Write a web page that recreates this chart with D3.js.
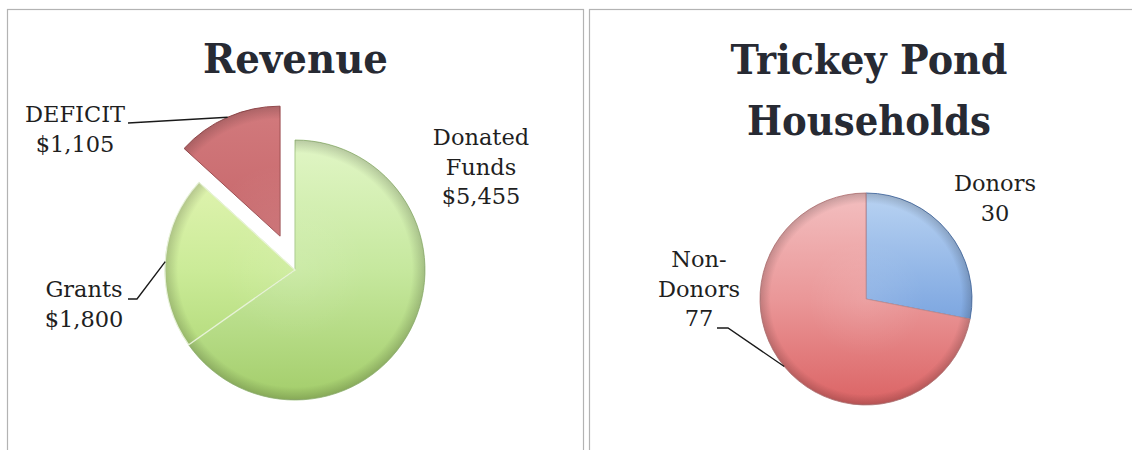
<!DOCTYPE html>
<html>
<head>
<meta charset="utf-8">
<script src="https://cdn.jsdelivr.net/npm/d3@7"></script>
<style>
  html, body { margin: 0; padding: 0; background: #ffffff; }
  svg { display: block; }
</style>
</head>
<body>
<svg id="chart" width="1132" height="450"></svg>
<script>
// ---------- DATA ----------
const revenueCategories = ["Donated Funds", "Grants", "DEFICIT"];
const revenueValues = [5455, 1800, 1105];
const revenueLabelLines = [["Donated", "Funds", "$5,455"], ["Grants", "$1,800"], ["DEFICIT", "$1,105"]];

const householdCategories = ["Donors", "Non-Donors"];
const householdValues = [30, 77];
const householdLabelLines = [["Donors", "30"], ["Non-", "Donors", "77"]];

const chartTitles = [["Revenue"], ["Trickey Pond", "Households"]];

// ---------- LAYOUT / STYLE ----------
const svg = d3.select("#chart");
const defs = svg.append("defs");

const FONT_SERIF = "'DejaVu Serif', 'Liberation Serif', serif";
const TITLE_COLOR = "#272a33";
const TEXT_COLOR = "#1f1f1f";

// panel frames
svg.append("rect").attr("x", 7.5).attr("y", 9.5).attr("width", 576).attr("height", 520)
  .attr("fill", "none").attr("stroke", "#b3b3b3").attr("stroke-width", 1.2);
svg.append("rect").attr("x", 589.5).attr("y", 9.5).attr("width", 620).attr("height", 520)
  .attr("fill", "none").attr("stroke", "#b3b3b3").attr("stroke-width", 1.2);

// gradient helper (vertical color gradient in user space)
function linGrad(id, stops, y1, y2) {
  const g = defs.append("linearGradient").attr("id", id)
    .attr("gradientUnits", "userSpaceOnUse")
    .attr("x1", 0).attr("x2", 0).attr("y1", y1).attr("y2", y2);
  stops.forEach(s => g.append("stop").attr("offset", s[0]).attr("stop-color", s[1]));
}
function rimGrad(id, r) {
  const g = defs.append("radialGradient").attr("id", id)
    .attr("gradientUnits", "userSpaceOnUse")
    .attr("cx", 0).attr("cy", 0).attr("r", r);
  g.append("stop").attr("offset", 0).attr("stop-color", "#ffffff").attr("stop-opacity", 0.10);
  g.append("stop").attr("offset", 0.55).attr("stop-color", "#ffffff").attr("stop-opacity", 0);
  g.append("stop").attr("offset", 0.9).attr("stop-color", "#000000").attr("stop-opacity", 0);
  g.append("stop").attr("offset", 1).attr("stop-color", "#000000").attr("stop-opacity", 0.18);
}

// ---------- REVENUE PIE ----------
const rev = { cx: 295, cy: 270, r: 130, explode: 37 };
linGrad("gDonated", [[0, "#e1f6c6"], [0.5, "#c6e89e"], [1, "#a3cd6a"]], -rev.r, rev.r);
linGrad("gGrants", [[0, "#e8f7b9"], [0.5, "#cbeb98"], [1, "#a6d26c"]], -rev.r, rev.r);
linGrad("gDeficit", [[0, "#d27a7d"], [0.5, "#c6666a"], [1, "#b35559"]], -rev.r, rev.r);
rimGrad("rimRev", rev.r);
const revFills = ["url(#gDonated)", "url(#gGrants)", "url(#gDeficit)"];
const revStrokes = ["#a8c98a", "#b3cf8c", "#9c4f52"];

const revPie = d3.pie().sort(null).value(d => d)(revenueValues);
const revArc = d3.arc().innerRadius(0).outerRadius(rev.r);
const revEdge = d3.arc().innerRadius(rev.r).outerRadius(rev.r);

const revG = svg.append("g").attr("transform", `translate(${rev.cx},${rev.cy})`);
const explodeIdx = revenueCategories.indexOf("DEFICIT");
function sliceOffset(d, i) {
  if (i !== explodeIdx) return [0, 0];
  const a = (d.startAngle + d.endAngle) / 2;
  return [Math.sin(a) * rev.explode, -Math.cos(a) * rev.explode];
}
const revSlices = revG.selectAll("g.slice").data(revPie).join("g")
  .attr("class", "slice")
  .attr("transform", (d, i) => { const o = sliceOffset(d, i); return `translate(${o[0]},${o[1]})`; });
revSlices.append("path").attr("d", revArc).attr("fill", (d, i) => revFills[i])
  .attr("stroke", (d, i) => revStrokes[i]).attr("stroke-width", 1);
revSlices.append("path").attr("d", revArc).attr("fill", "url(#rimRev)").attr("stroke", "none");
// thin highlight between Donated and Grants
revSlices.filter((d, i) => i === 1).append("path").attr("d", revArc)
  .attr("fill", "none").attr("stroke", "#f4fbe8").attr("stroke-width", 1.3).attr("opacity", 0.8);

// revenue labels
const revLabelLayout = [
  { x: 481, y: 145, lead: null },
  { x: 84, y: 297, lead: [[128, 299], [137, 299]] },
  { x: 75, y: 122, lead: [[128, 123]] }
];
const LINE_H = 29.5;
revenueLabelLines.forEach((lines, i) => {
  const L = revLabelLayout[i];
  const t = svg.append("text").attr("font-family", FONT_SERIF).attr("font-size", 22.5)
    .attr("fill", TEXT_COLOR).attr("text-anchor", "middle");
  lines.forEach((s, k) => t.append("tspan").attr("x", L.x).attr("y", L.y + k * LINE_H).text(s));
  if (L.lead) {
    const d = revPie[i];
    const o = sliceOffset(d, i);
    const e = revEdge.centroid(d);
    const pts = L.lead.concat([[rev.cx + o[0] + e[0], rev.cy + o[1] + e[1]]]);
    svg.append("path").attr("d", d3.line()(pts)).attr("fill", "none")
      .attr("stroke", "#1a1a1a").attr("stroke-width", 1.4);
  }
});

// ---------- HOUSEHOLDS PIE ----------
const hh = { cx: 866, cy: 299, r: 106 };
linGrad("gDonors", [[0, "#b9d3f2"], [0.5, "#86ade3"], [1, "#5a8bd2"]], -hh.r, hh.r);
linGrad("gNon", [[0, "#f3bfc0"], [0.5, "#ea9798"], [1, "#db6364"]], -hh.r, hh.r);
rimGrad("rimHH", hh.r);
const hhFills = ["url(#gDonors)", "url(#gNon)"];
const hhStrokes = ["#5a7fb5", "#c78a8b"];

const hhPie = d3.pie().sort(null).value(d => d)(householdValues);
const hhArc = d3.arc().innerRadius(0).outerRadius(hh.r);
const hhEdge = d3.arc().innerRadius(hh.r).outerRadius(hh.r);
const hhG = svg.append("g").attr("transform", `translate(${hh.cx},${hh.cy})`);
const hhSlices = hhG.selectAll("g.slice").data(hhPie).join("g").attr("class", "slice");
hhSlices.append("path").attr("d", hhArc).attr("fill", (d, i) => hhFills[i])
  .attr("stroke", (d, i) => hhStrokes[i]).attr("stroke-width", 1);
hhSlices.append("path").attr("d", hhArc).attr("fill", "url(#rimHH)").attr("stroke", "none");

const hhLabelLayout = [
  { x: 995, y: 191, lead: null },
  { x: 699, y: 267, lead: [[717, 328], [728, 328]] }
];
householdLabelLines.forEach((lines, i) => {
  const L = hhLabelLayout[i];
  const t = svg.append("text").attr("font-family", FONT_SERIF).attr("font-size", 22.5)
    .attr("fill", TEXT_COLOR).attr("text-anchor", "middle");
  lines.forEach((s, k) => t.append("tspan").attr("x", L.x).attr("y", L.y + k * LINE_H).text(s));
  if (L.lead) {
    const e = hhEdge.centroid(hhPie[i]);
    const pts = L.lead.concat([[hh.cx + e[0], hh.cy + e[1]]]);
    svg.append("path").attr("d", d3.line()(pts)).attr("fill", "none")
      .attr("stroke", "#1a1a1a").attr("stroke-width", 1.4);
  }
});

// ---------- TITLES ----------
const titleLayout = [
  { x: 295.5, y: 73, widths: [185] },
  { x: 869, y: 74, widths: [277, 244] }
];
chartTitles.forEach((lines, i) => {
  const L = titleLayout[i];
  lines.forEach((s, k) => {
    svg.append("text").attr("x", L.x).attr("y", L.y + k * 61)
      .attr("font-family", FONT_SERIF).attr("font-weight", "bold").attr("font-size", 41)
      .attr("fill", TITLE_COLOR).attr("text-anchor", "middle")
      .attr("textLength", L.widths[k]).attr("lengthAdjust", "spacingAndGlyphs")
      .text(s);
  });
});
</script>
</body>
</html>
